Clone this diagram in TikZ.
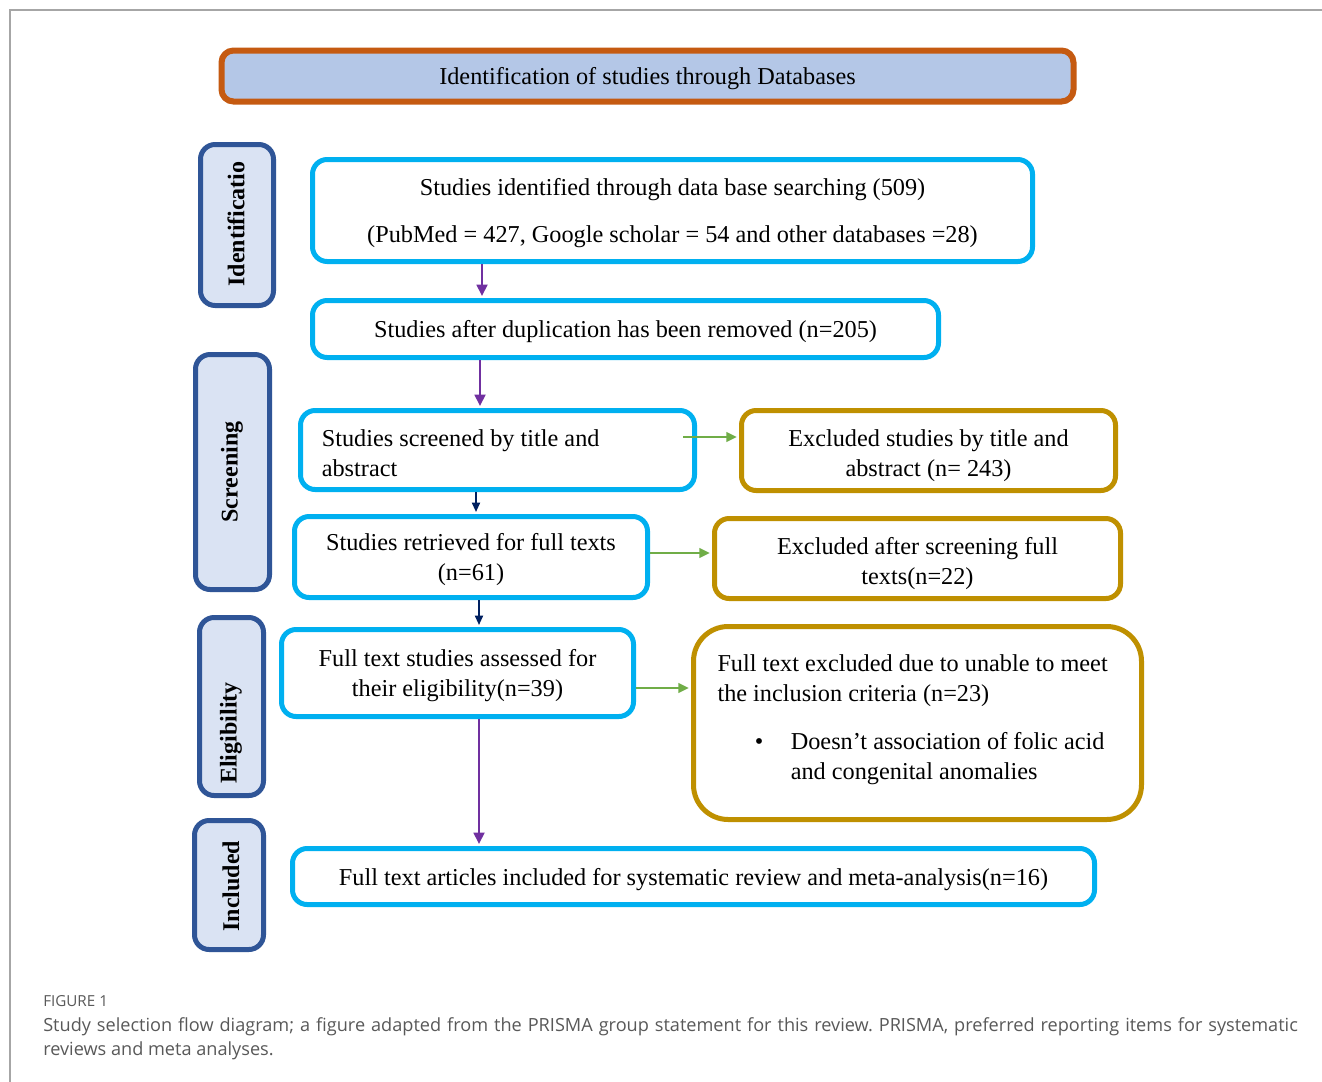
\documentclass[tikz,border=0pt]{standalone}
\usepackage{fontspec}
\setmainfont{Liberation Serif}
\newfontfamily\capfont{Open Sans}
\usetikzlibrary{arrows.meta,calc}
\definecolor{orangeb}{HTML}{C55A11}
\definecolor{titlef}{HTML}{B4C7E7}
\definecolor{sideb}{HTML}{2F5597}
\definecolor{sidef}{HTML}{DAE3F3}
\definecolor{cyanb}{HTML}{00B0F0}
\definecolor{goldb}{HTML}{BF9000}
\definecolor{purp}{HTML}{7030A0}
\definecolor{navy}{HTML}{002060}
\definecolor{greena}{HTML}{70AD47}
\definecolor{capgray}{HTML}{595959}
\definecolor{framegray}{HTML}{A6A6A6}
\frenchspacing
\begin{document}
\begin{tikzpicture}[x=0.75pt,y=-0.75pt,
  boxbase/.style={draw=cyanb, line width=3.75pt, rounded corners=11pt, fill=white, inner sep=0pt,
    font=\fontsize{18.2}{22.5}\selectfont},
  cbox/.style={boxbase, align=center, text depth=0pt},
  gbox/.style={cbox, draw=goldb},
  sbox/.style={draw=sideb, fill=sidef, line width=3.75pt, rounded corners=11pt, inner sep=0pt},
  slabel/.style={rotate=90, inner sep=0pt, font=\fontsize{18}{20}\selectfont\bfseries},
  parr/.style={draw=purp, line width=2pt, -{Triangle[length=8.5pt,width=8pt]}},
  narr/.style={draw=navy, line width=1.3pt, -{Triangle[length=7pt,width=6pt]}},
  garr/.style={draw=greena, line width=2pt, -{Triangle[length=8pt,width=7pt]}}
]
\useasboundingbox (0,0) rectangle (1322,1082);
\fill[white] (0,0) rectangle (1322,1082);
% frame
\coordinate (ftl) at (10,10);
\coordinate (ftr) at (1322,10);
\coordinate (fbl) at (10,1082);
\draw[framegray, line width=0.9pt] (ftr) -- (ftl) -- (fbl);

% title
\node[draw=orangeb, fill=titlef, line width=4.5pt, rounded corners=9pt, inner sep=0pt,
  minimum width=639pt, minimum height=38.25pt, text depth=0pt, font=\fontsize{18.2}{22.5}\selectfont]
  (title) at (647.5,76) {Identification of studies through Databases};

% side boxes
\node[sbox, minimum width=54.75pt, minimum height=120.75pt] (s1) at (237,225) {};
\node[slabel] (s1t) at (236,224) {Identificatio};
\node[sbox, minimum width=55.5pt, minimum height=176.25pt] (s2) at (232.5,472) {};
\node[slabel] (s2t) at (232,472) {Screening};
\node[sbox, minimum width=48pt, minimum height=133.5pt] (s3) at (231.5,706.5) {};
\node[slabel] (s3t) at (231,733) {Eligibility};
\node[sbox, minimum width=51.75pt, minimum height=96.75pt] (s4) at (229,885) {};
\node[slabel] (s4t) at (231,886) {Included};

% cyan boxes
\node[cbox, minimum width=540pt, minimum height=76.5pt] (b1) at (672.5,210.5)
  {Studies identified through data base searching (509)\\[12.75pt]
   (PubMed = 427, Google scholar = 54 and other databases =28)};
\node[cbox, minimum width=469.5pt, minimum height=42.75pt] (b2) at (625.5,329)
  {Studies after duplication has been removed (n=205)};
\node[boxbase, align=flush left, text width=263.5pt, inner xsep=16pt, minimum height=59.25pt] (b3) at (497.5,450)
  {\rule{0pt}{17pt}Studies screened by title and\\abstract};
\node[cbox, minimum width=264.75pt, minimum height=60.75pt] (b4) at (471,557)
  {Studies retrieved for full texts\\(n=61)};
\node[cbox, minimum width=264pt, minimum height=65.25pt] (b5) at (457.5,673)
  {Full text studies assessed for\\their eligibility(n=39)};
\node[cbox, minimum width=601.5pt, minimum height=42pt] (b6) at (693.5,876.5)
  {Full text articles included for systematic review and meta-analysis(n=16)};

% gold boxes
\node[gbox, minimum width=280.5pt, minimum height=60pt] (g1) at (928.5,450.5)
  {\rule{0pt}{17pt}Excluded studies by title and\\abstract (n= 243)};
\node[gbox, minimum width=304.5pt, minimum height=60pt] (g2) at (917.5,558.5)
  {\rule{0pt}{17pt}Excluded after screening full\\texts(n=22)};
\node[boxbase, draw=goldb, rounded corners=26pt, align=flush left, text width=300pt, inner xsep=18pt,
  minimum height=144.75pt] (g3) at (917.5,723)
  {Full text excluded due to unable to meet\\
   the inclusion criteria (n=23)\\[13.5pt]
   \hspace*{28pt}\makebox[27pt][l]{\textbullet}Doesn’t association of folic acid\\
   \hspace*{55pt}and congenital anomalies\\[-13.5pt]\mbox{}};

% arrow coordinates
\coordinate (x482) at (482,0);
\coordinate (x480) at (480,0);
\coordinate (x476) at (476,0);
\coordinate (x479) at (479,0);
\coordinate (y437) at (0,437);
\coordinate (y553) at (0,553);
\coordinate (y688) at (0,688);

\draw[parr] (b1.south -| x482) -- ($(b2.north -| x482)+(0,-2)$);
\draw[parr] (b2.south -| x480) -- ($(b3.north -| x480)+(0,-2)$);
\draw[narr] (b3.south -| x476) -- ($(b4.north -| x476)+(0,-2)$);
\draw[narr] (b4.south -| x479) -- ($(b5.north -| x479)+(0,-2)$);
\draw[parr] (b5.south -| x479) -- ($(b6.north -| x479)+(0,-2)$);

\draw[garr] ($(b3.east |- y437)+(-14,0)$) -- ($(g1.west |- y437)+(-2,0)$);
\draw[garr] (b4.east |- y553) -- ($(g2.west |- y553)+(-2,0)$);
\draw[garr] (b5.east |- y688) -- ($(g3.west |- y688)+(-2,0)$);

% caption
\node[anchor=west, inner sep=0pt, text=capgray, font=\capfont\fontsize{11.4}{13}\selectfont]
  (fig) at (43,1001) {FIGURE 1};
\node[anchor=north west, inner sep=0pt, align=left, text=capgray,
  font=\capfont\fontsize{13.6}{18}\selectfont] (cap) at (43,1017)
  {\makebox[941pt][s]{Study selection flow diagram; a figure adapted from the PRISMA group statement for this review. PRISMA, preferred reporting items for systematic}\\
   reviews and meta analyses.};
\end{tikzpicture}
\end{document}
